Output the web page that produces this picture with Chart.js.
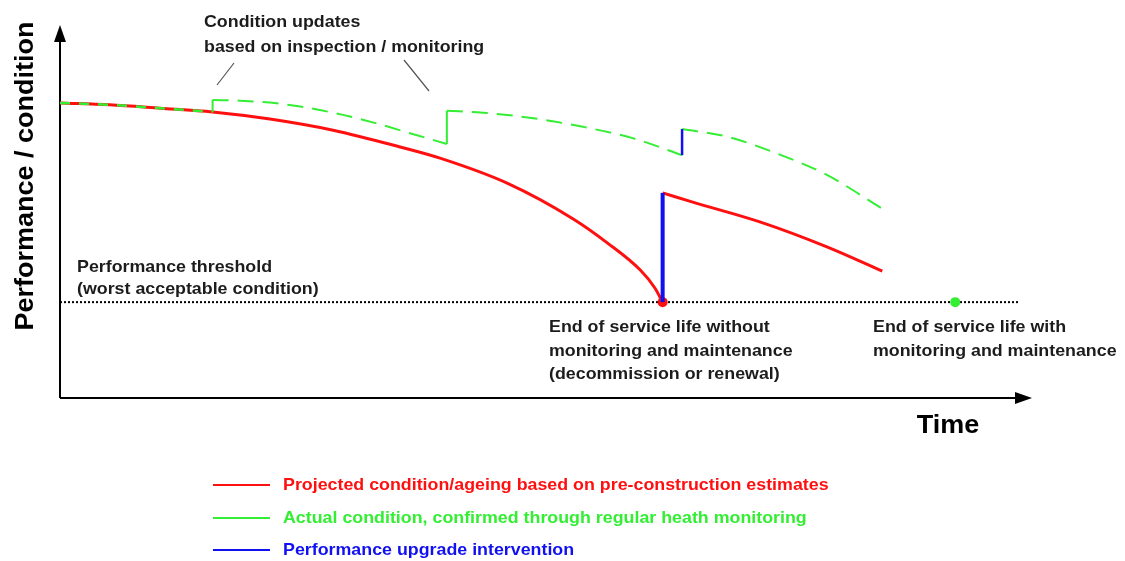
<!DOCTYPE html>
<html>
<head>
<meta charset="utf-8">
<script src="https://cdn.jsdelivr.net/npm/chart.js@4/dist/chart.umd.min.js"></script>
<style>
  html, body { margin: 0; padding: 0; background: #ffffff; }
  #wrap { position: relative; width: 1125px; height: 561px; }
</style>
</head>
<body>
<div id="wrap"><canvas id="c" width="1125" height="561"></canvas></div>
<script>
// Projected condition (pre-construction estimate), until end of life
const projectedAgeing = [
  [0, 79.1], [5.1, 78.6], [10.3, 77.7], [15.7, 76.7], [21.6, 74.8], [28.1, 71.8],
  [35.0, 67.3], [39.1, 64.3], [46.0, 57.6], [52.8, 48.0], [56.3, 41.6],
  [59.7, 34.3], [61.2, 29.5], [62.0, 25.7]
];
// Projected condition after the renewal
const projectedAfterRenewal = [
  [62.0, 55.0], [65.1, 52.5], [72.0, 47.2], [78.9, 40.5], [84.6, 34.0]
];
// Actual (monitored) condition, one list per inspection interval
const actualStart = [[0, 79.1], [5.1, 78.6], [10.3, 77.7], [15.7, 76.7]];
const actualAfterUpdate1 = [
  [15.7, 79.9], [18.5, 79.7], [22.3, 79.0], [25.7, 77.7], [29.1, 75.9],
  [32.6, 73.6], [36.0, 71.0], [39.8, 68.1]
];
const actualAfterUpdate2 = [
  [39.8, 77.0], [43.5, 76.5], [48.7, 75.0], [53.8, 72.7], [59.0, 69.6], [64.0, 65.1]
];
const actualAfterUpgrade = [
  [64.0, 72.1], [68.6, 70.1], [73.7, 65.6], [78.9, 59.8], [84.5, 50.9]
];
// Condition updates (jumps in the monitored curve)
const conditionUpdates = [
  [[15.7, 76.7], [15.7, 79.9]],
  [[39.8, 68.1], [39.8, 77.0]]
];
// Performance upgrade interventions
const upgradeInterventions = [
  [[62.0, 25.7], [62.0, 55.0]],
  [[64.0, 65.1], [64.0, 72.1]]
];
// Threshold level and end-of-life events
const thresholdLevel = 25.7;
const thresholdEnd = 98.6;
const endWithoutMonitoring = [62.0, 25.7];
const endWithMonitoring = [92.1, 25.7];

const legendLabels = [
  'Projected condition/ageing based on pre-construction estimates',
  'Actual condition, confirmed through regular heath monitoring',
  'Performance upgrade intervention'
];
const axisTitles = { y: 'Performance / condition', x: 'Time' };

const RED = '#ff1010';
const GREEN = '#33ee33';
const BLUE = '#1010f0';
const INK = '#1c1c1c';
const FONT = '"Liberation Sans", Arial, Helvetica, sans-serif';
const STRETCH = 1.08;

const pts = arr => arr.map(([x, y]) => ({ x, y }));

function line(data, color, width, extra) {
  return Object.assign({
    data: pts(data), showLine: true, borderColor: color, backgroundColor: color,
    borderWidth: width, pointRadius: 0, pointHoverRadius: 0,
    cubicInterpolationMode: 'monotone', fill: false, borderCapStyle: 'butt'
  }, extra || {});
}

const straight = { tension: 0, cubicInterpolationMode: 'default' };
const datasets = [];
// red projection
datasets.push(line(projectedAgeing, RED, 3, { order: 5 }));
datasets.push(line(projectedAfterRenewal, RED, 3, { order: 5 }));
// green monitored condition (dashed)
const dash = { borderDash: [16, 9], order: 3 };
datasets.push(line(actualStart, GREEN, 2.5, Object.assign({}, dash, { borderDash: [10, 9] })));
datasets.push(line(actualAfterUpdate1, GREEN, 2, dash));
datasets.push(line(actualAfterUpdate2, GREEN, 2, dash));
datasets.push(line(actualAfterUpgrade, GREEN, 2, dash));
conditionUpdates.forEach(seg => datasets.push(line(seg, GREEN, 2, Object.assign({ order: 3 }, straight))));
// threshold
datasets.push(line([[0, thresholdLevel], [thresholdEnd, thresholdLevel]], '#000000', 2,
  Object.assign({ borderDash: [2, 2], order: 6 }, straight)));
// end-of-life markers
datasets.push({ data: pts([endWithoutMonitoring]), showLine: false, pointRadius: 5, pointBorderWidth: 0,
  backgroundColor: RED, borderColor: RED, order: 2 });
datasets.push({ data: pts([endWithMonitoring]), showLine: false, pointRadius: 5, pointBorderWidth: 0,
  backgroundColor: GREEN, borderColor: GREEN, order: 2 });
// blue interventions
datasets.push(line(upgradeInterventions[0], BLUE, 4, Object.assign({ order: 1 }, straight)));
datasets.push(line(upgradeInterventions[1], BLUE, 2.5, Object.assign({ order: 1 }, straight)));

// bold text, slightly widened
function text(ctx, s, x, y, size, color, align) {
  ctx.save();
  ctx.font = 'bold ' + size + 'px ' + FONT;
  ctx.fillStyle = color;
  ctx.textBaseline = 'middle';
  ctx.translate(x, y);
  ctx.scale(STRETCH, 1);
  ctx.textAlign = align || 'left';
  ctx.fillText(s, 0, 0);
  ctx.restore();
}

// axes with arrow heads, annotations and legend
const decor = {
  id: 'decor',
  beforeDatasetsDraw(chart) {
    const ctx = chart.ctx;
    const xs = chart.scales.x, ys = chart.scales.y;
    const x0 = xs.getPixelForValue(0), y0 = ys.getPixelForValue(0);
    const xTip = xs.getPixelForValue(100), yTip = ys.getPixelForValue(100);
    ctx.save();
    ctx.strokeStyle = '#000'; ctx.fillStyle = '#000'; ctx.lineWidth = 2;
    ctx.beginPath();
    ctx.moveTo(x0, y0); ctx.lineTo(x0, yTip + 12);
    ctx.moveTo(x0, y0); ctx.lineTo(xTip - 12, y0);
    ctx.stroke();
    ctx.beginPath();
    ctx.moveTo(x0, yTip); ctx.lineTo(x0 - 6, yTip + 17); ctx.lineTo(x0 + 6, yTip + 17); ctx.closePath();
    ctx.fill();
    ctx.beginPath();
    ctx.moveTo(xTip, y0); ctx.lineTo(xTip - 17, y0 - 6); ctx.lineTo(xTip - 17, y0 + 6); ctx.closePath();
    ctx.fill();
    ctx.restore();
  },
  afterDraw(chart) {
    const ctx = chart.ctx;
    // axis titles
    ctx.save();
    ctx.translate(26, 176);
    ctx.rotate(-Math.PI / 2);
    text(ctx, axisTitles.y, 0, 0, 25, '#000', 'center');
    ctx.restore();
    text(ctx, axisTitles.x, 948, 426, 25, '#000', 'center');

    // annotations
    text(ctx, 'Condition updates', 204, 22, 16.5, INK);
    text(ctx, 'based on inspection / monitoring', 204, 47, 16.5, INK);
    ctx.save();
    ctx.strokeStyle = '#555'; ctx.lineWidth = 1.2;
    ctx.beginPath();
    ctx.moveTo(234, 63); ctx.lineTo(217, 85);
    ctx.moveTo(404, 60); ctx.lineTo(429, 91);
    ctx.stroke();
    ctx.restore();

    text(ctx, 'Performance threshold', 77, 267, 16.5, INK);
    text(ctx, '(worst acceptable condition)', 77, 289, 16.5, INK);

    text(ctx, 'End of service life without', 549, 327, 16.5, INK);
    text(ctx, 'monitoring and maintenance', 549, 351, 16.5, INK);
    text(ctx, '(decommission or renewal)', 549, 374, 16.5, INK);

    text(ctx, 'End of service life with', 873, 327, 16.5, INK);
    text(ctx, 'monitoring and maintenance', 873, 351, 16.5, INK);

    // legend
    const colors = [RED, GREEN, BLUE];
    const rows = [485, 518, 550];
    legendLabels.forEach((lab, i) => {
      ctx.save();
      ctx.strokeStyle = colors[i]; ctx.lineWidth = 2;
      ctx.beginPath(); ctx.moveTo(213, rows[i]); ctx.lineTo(270, rows[i]); ctx.stroke();
      ctx.restore();
      text(ctx, lab, 283, rows[i], 16.5, colors[i]);
    });
  }
};

new Chart(document.getElementById('c'), {
  type: 'scatter',
  data: { datasets },
  options: {
    responsive: false,
    animation: false,
    events: [],
    layout: { padding: { left: 60, right: 93, top: 25, bottom: 163 } },
    scales: {
      x: { type: 'linear', min: 0, max: 100, display: false },
      y: { type: 'linear', min: 0, max: 100, display: false }
    },
    plugins: { legend: { display: false }, tooltip: { enabled: false } }
  },
  plugins: [decor]
});
</script>
</body>
</html>
